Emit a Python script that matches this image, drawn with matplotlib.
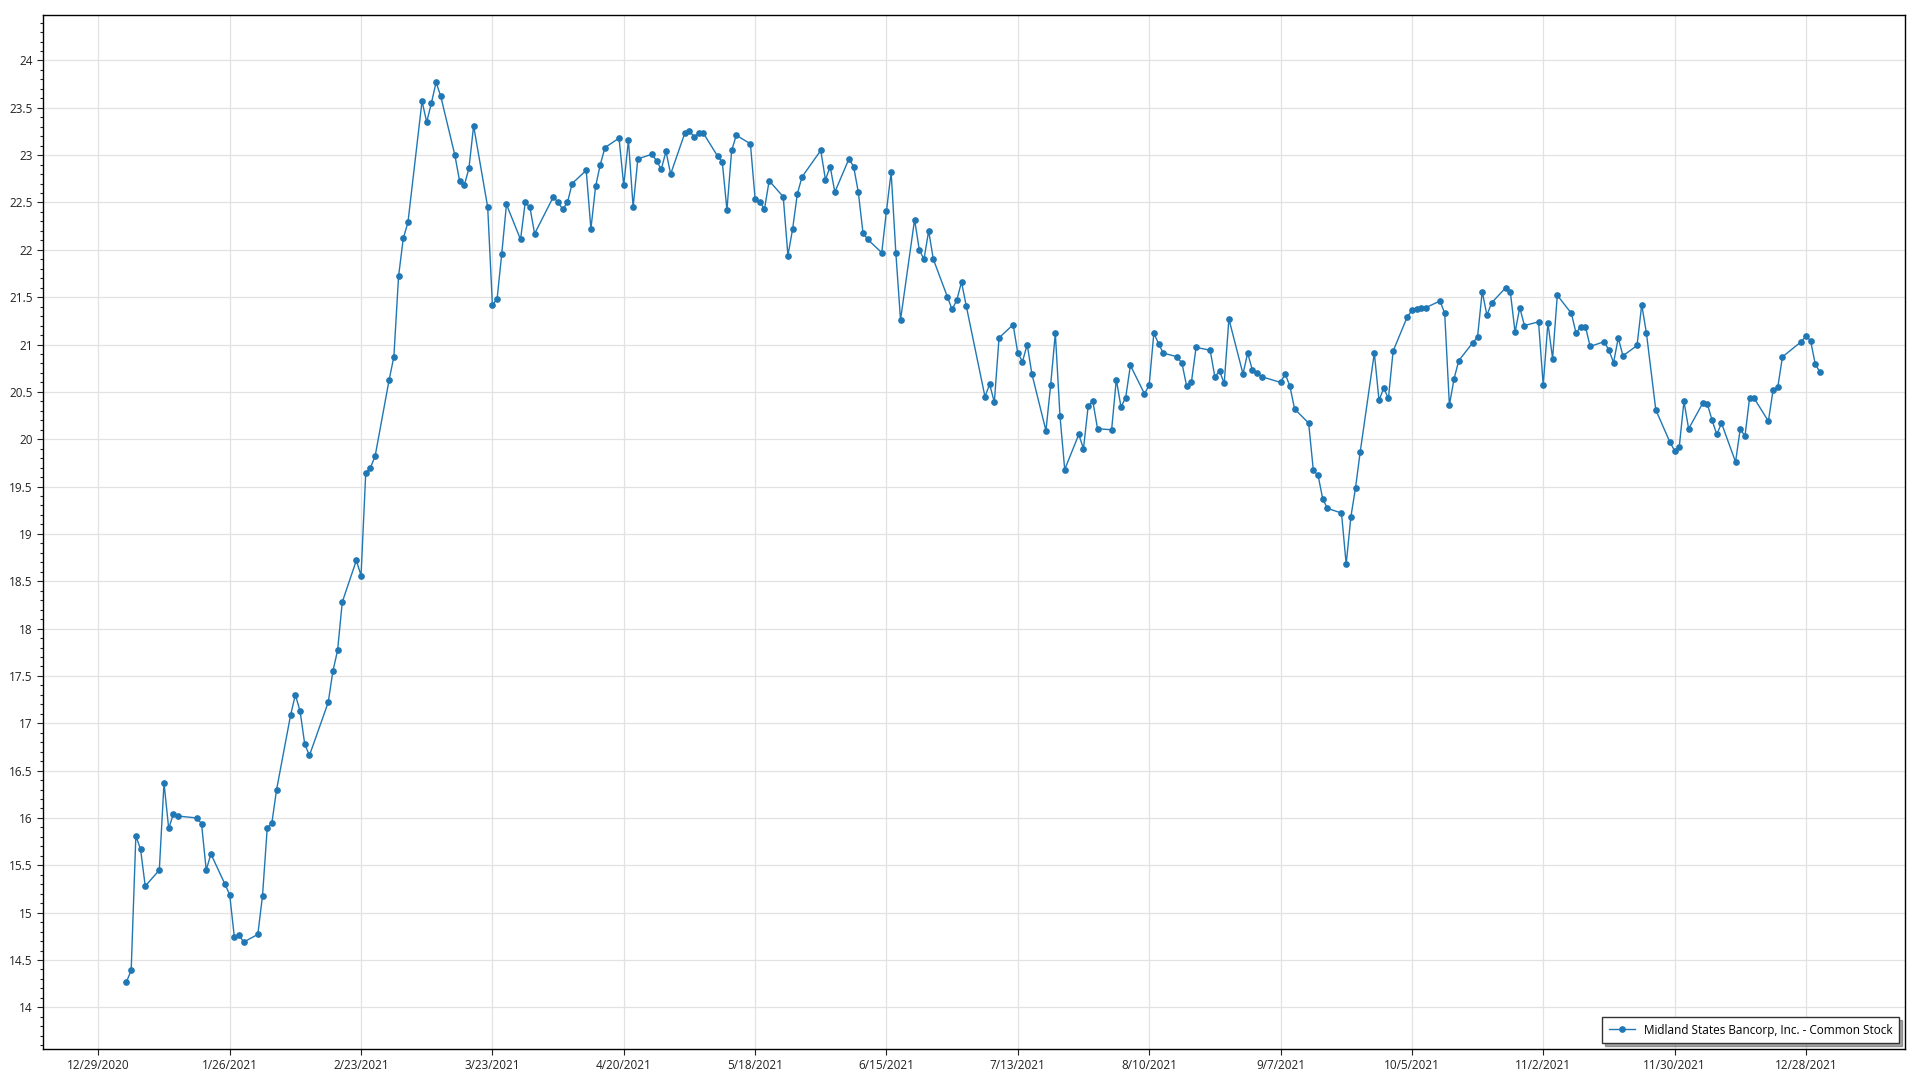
import matplotlib
matplotlib.use('Agg')
import matplotlib.pyplot as plt
import pandas as pd
import numpy as np

# NYSE holidays in 2021 (market closed)
holidays = ['2021-01-01', '2021-01-18', '2021-02-15', '2021-04-02', '2021-05-31',
            '2021-07-05', '2021-09-06', '2021-11-25', '2021-12-24']

# closing prices, one per trading day, by month
jan = [14.27, 14.39, 15.81, 15.67, 15.28, 15.45, 16.37, 15.89, 16.04, 16.02,
       16.00, 15.94, 15.45, 15.62, 15.30, 15.19, 14.74, 14.76, 14.69]
feb = [14.77, 15.18, 15.89, 15.95, 16.30, 17.09, 17.30, 17.13, 16.78, 16.66,
       17.22, 17.55, 17.77, 18.28, 18.72, 18.56, 19.64, 19.70, 19.82]
mar = [20.63, 20.87, 21.72, 22.12, 22.29, 23.57, 23.35, 23.55, 23.77, 23.62,
       23.00, 22.73, 22.68, 22.86, 23.31, 22.45, 21.42, 21.48, 21.96, 22.48,
       22.11, 22.50, 22.45]
apr = [22.17, 22.56, 22.50, 22.43, 22.50, 22.70, 22.84, 22.22, 22.67, 22.90,
       23.08, 23.18, 22.68, 23.16, 22.45, 22.96, 23.01, 22.94, 22.85, 23.04,
       22.80]
may = [23.23, 23.26, 23.19, 23.23, 23.23, 22.99, 22.93, 22.42, 23.05, 23.21,
       23.12, 22.54, 22.51, 22.43, 22.73, 22.56, 21.94, 22.22, 22.59, 22.77]
jun = [23.05, 22.74, 22.88, 22.61, 22.96, 22.88, 22.61, 22.18, 22.11, 21.97,
       22.41, 22.82, 21.97, 21.26, 22.32, 22.00, 21.90, 22.20, 21.90, 21.50,
       21.37, 21.47]
jul = [21.66, 21.41, 20.45, 20.58, 20.39, 21.07, 21.21, 20.91, 20.82, 21.00,
       20.69, 20.09, 20.57, 21.12, 20.24, 19.68, 20.05, 19.90, 20.35, 20.40,
       20.11]
aug = [20.10, 20.63, 20.34, 20.44, 20.78, 20.48, 20.57, 21.12, 21.01, 20.91,
       20.87, 20.80, 20.56, 20.60, 20.97, 20.94, 20.66, 20.72, 20.59, 21.27,
       20.69, 20.91]
sep = [20.73, 20.70, 20.66, 20.60, 20.69, 20.56, 20.32, 20.17, 19.67, 19.62,
       19.37, 19.27, 19.22, 18.68, 19.18, 19.49, 19.87, 20.91, 20.41, 20.54,
       20.43]
oct = [20.93, 21.29, 21.36, 21.38, 21.39, 21.39, 21.46, 21.33, 20.36, 20.64,
       20.83, 21.02, 21.08, 21.56, 21.31, 21.44, 21.60, 21.55, 21.13, 21.39,
       21.20]
nov = [21.24, 20.57, 21.23, 20.85, 21.52, 21.33, 21.12, 21.19, 21.19, 20.98,
       21.03, 20.94, 20.81, 21.07, 20.88, 20.99, 21.42, 21.12, 20.31, 19.97,
       19.88]
dec = [19.92, 20.40, 20.11, 20.38, 20.37, 20.20, 20.05, 20.17, 19.76, 20.11,
       20.03, 20.44, 20.43, 20.19, 20.52, 20.55, 20.87, 21.03, 21.09, 21.04,
       20.79, 20.71]

prices = jan + feb + mar + apr + may + jun + jul + aug + sep + oct + nov + dec
dates = pd.bdate_range('2021-01-01', '2021-12-31', freq='C', holidays=holidays)

x_ticks = pd.date_range('2020-12-29', '2021-12-28', freq='28D')
series_name = 'Midland States Bancorp, Inc. - Common Stock'

plt.rcParams['font.family'] = ['Open Sans', 'DejaVu Sans']

fig = plt.figure(figsize=(19.2, 10.8), dpi=100)
ax = fig.add_axes([0.0224, 0.0287, 0.9698, 0.9574])

ax.plot(dates, prices, color='#1f77b4', linewidth=1, marker='o',
        markersize=3.8, label=series_name)

ax.set_xlim(pd.Timestamp('2020-12-17 05:00'), pd.Timestamp('2022-01-18 03:00'))
ax.set_ylim(13.56, 24.48)

ax.set_xticks(x_ticks)
ax.set_xticklabels([f'{d.month}/{d.day}/{d.year}' for d in x_ticks])
ax.set_yticks(np.arange(14, 24.01, 0.5))
ax.set_yticklabels([f'{v:g}' for v in np.arange(14, 24.01, 0.5)])
ax.yaxis.set_minor_locator(matplotlib.ticker.MultipleLocator(0.1))

ax.tick_params(axis='both', which='major', labelsize=8.5, length=4,
               width=0.8, colors='#222222')
ax.tick_params(axis='y', which='minor', length=2, width=0.8, color='#222222')

ax.grid(True, which='major', color='#e2e2e2', linewidth=0.9)
ax.set_axisbelow(True)
for s in ax.spines.values():
    s.set_color('black')
    s.set_linewidth(1)

leg = ax.legend(loc='lower right', fontsize=8.5, frameon=True, fancybox=False,
                shadow=True, framealpha=1, borderaxespad=0.5,
                handlelength=2.2, borderpad=0.55)
leg.get_frame().set_edgecolor('#333333')
leg.get_frame().set_linewidth(1)

fig.savefig('out.png', dpi=100)
